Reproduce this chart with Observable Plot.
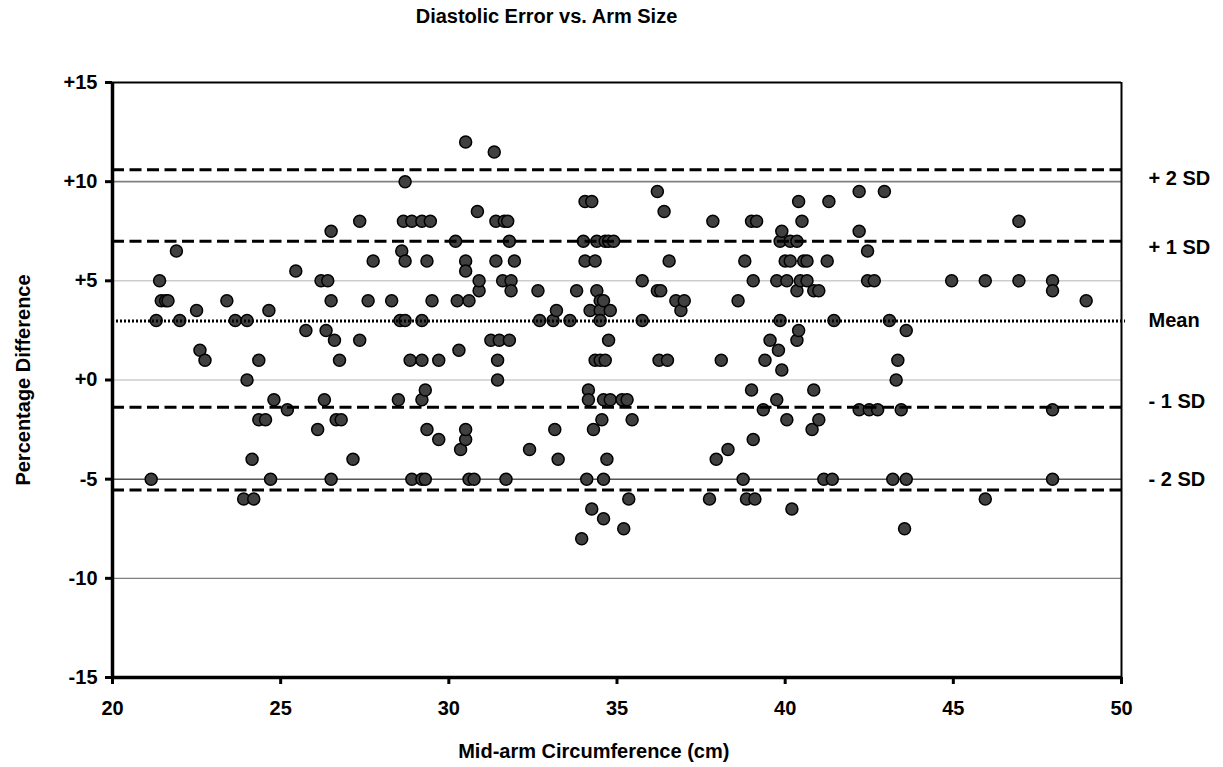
<!DOCTYPE html>
<html>
<head>
<meta charset="utf-8">
<script src="https://cdn.jsdelivr.net/npm/d3@7"></script>
<script src="https://cdn.jsdelivr.net/npm/@observablehq/plot@0.6"></script>
<style>
  html, body { margin: 0; padding: 0; background: #ffffff; }
  #chart svg { display: block; }
</style>
</head>
<body>
<div id="chart"></div>
<script>
// ---- Data ----
const armCm = [
  21.15, 21.3, 21.4, 21.45, 21.58, 21.65, 21.9, 22.0, 22.5, 22.6,
  22.75, 23.4, 23.65, 24.0, 24.0, 23.9, 24.15, 24.2, 24.35, 24.35,
  24.55, 24.65, 24.7, 24.8, 25.2, 25.45, 25.75, 26.1, 26.2, 26.35,
  26.3, 26.4, 26.5, 26.5, 26.5, 26.6, 26.65, 26.8, 26.75, 27.15,
  27.35, 27.35, 27.6, 27.75, 28.3, 28.5, 28.6, 28.55, 28.7, 28.65,
  28.7, 28.7, 28.85, 28.9, 28.9, 29.2, 29.2, 29.2, 29.2, 29.3,
  29.2, 29.35, 29.3, 29.35, 29.45, 29.5, 29.7, 29.7, 30.2, 30.25,
  30.3, 30.35, 30.5, 30.5, 30.5, 30.5, 30.5, 30.6, 30.6, 30.75,
  30.85, 30.9, 30.9, 31.25, 31.35, 31.4, 31.4, 31.5, 31.45, 31.45,
  31.65, 31.6, 31.8, 31.7, 31.75, 31.8, 31.85, 31.85, 31.95, 32.4,
  32.65, 32.7, 33.1, 33.15, 33.2, 33.25, 33.6, 33.8, 34.0, 33.95,
  34.05, 34.05, 34.15, 34.15, 34.1, 34.25, 34.2, 34.25, 34.4, 34.35,
  34.4, 34.35, 34.3, 34.5, 34.5, 34.5, 34.5, 34.6, 34.65, 34.6,
  34.55, 34.6, 34.65, 34.6, 34.8, 34.75, 34.75, 34.7, 34.8, 34.9,
  35.15, 35.3, 35.2, 35.35, 35.45, 35.75, 35.75, 36.2, 36.2, 36.25,
  36.3, 36.4, 36.55, 36.5, 36.75, 36.9, 37.0, 37.75, 37.85, 37.95,
  38.1, 38.3, 38.6, 38.75, 38.8, 38.85, 39.0, 39.15, 39.05, 39.0,
  39.05, 39.1, 39.4, 39.35, 39.55, 39.75, 39.75, 39.85, 39.8, 39.85,
  39.9, 39.9, 40.15, 40.0, 40.15, 40.05, 40.05, 40.35, 40.2, 40.35,
  40.35, 40.4, 40.45, 40.4, 40.5, 40.55, 40.65, 40.65, 40.85, 40.8,
  40.85, 41.0, 41.0, 41.15, 41.25, 41.3, 41.4, 41.45, 42.2, 42.2,
  42.2, 42.45, 42.45, 42.5, 42.65, 42.75, 42.95, 43.1, 43.2, 43.3,
  43.35, 43.45, 43.6, 43.55, 43.6, 44.95, 45.95, 45.95, 46.95, 46.95,
  47.95, 47.95, 47.95, 47.95, 48.95
];
const pctDiff = [
  -5, 3, 5, 4, 4, 4, 6.5, 3, 3.5, 1.5,
  1, 4, 3, 3, 0, -6, -4, -6, 1, -2,
  -2, 3.5, -5, -1, -1.5, 5.5, 2.5, -2.5, 5, 2.5,
  -1, 5, 7.5, 4, -5, 2, -2, -2, 1, -4,
  8, 2, 4, 6, 4, -1, 6.5, 3, 10, 8,
  6, 3, 1, 8, -5, 8, 3, -1, 1, -0.5,
  -5, 6, -5, -2.5, 8, 4, -3, 1, 7, 4,
  1.5, -3.5, -3, 12, 6, 5.5, -2.5, 4, -5, -5,
  8.5, 4.5, 5, 2, 11.5, 8, 6, 2, 1, 0,
  8, 5, 2, -5, 8, 7, 5, 4.5, 6, -3.5,
  4.5, 3, 3, -2.5, 3.5, -4, 3, 4.5, 7, -8,
  9, 6, -0.5, -1, -5, 9, 3.5, -6.5, 7, 6,
  4.5, 1, -2.5, 4, 3.5, 3, 1, 4, 1, -1,
  -2, -5, 7, -7, 3.5, 7, 2, -4, -1, 7,
  -1, -1, -7.5, -6, -2, 5, 3, 9.5, 4.5, 1,
  4.5, 8.5, 6, 1, 4, 3.5, 4, -6, 8, -4,
  1, -3.5, 4, -5, 6, -6, 8, 8, 5, -0.5,
  -3, -6, 1, -1.5, 2, 5, -1, 7, 1.5, 3,
  7.5, 0.5, 7, 6, 6, 5, -2, 7, -6.5, 4.5,
  2, 9, 5, 2.5, 8, 6, 6, 5, -0.5, -2.5,
  4.5, 4.5, -2, -5, 6, 9, -5, 3, 9.5, 7.5,
  -1.5, 6.5, 5, -1.5, 5, -1.5, 9.5, 3, -5, 0,
  1, -1.5, -5, -7.5, 2.5, 5, 5, -6, 8, 5,
  5, 4.5, -1.5, -5, 4
];

const xTicks = [20, 25, 30, 35, 40, 45, 50];
const yTicks = [15, 10, 5, 0, -5, -10, -15];
const gridValues = [10, 5, 0, -5, -10];
const gridColors = ["#808080", "#b4b4b4", "#b4b4b4", "#000000", "#808080"];
const gridWidths = [1.6, 1, 1, 1, 1.4];

const refNames = ["+ 2 SD", "+ 1 SD", "Mean", "- 1 SD", "- 2 SD"];
const refValues = [10.6, 7.0, 2.97, -1.37, -5.54];
const refLabelY = [10.15, 6.7, 3.0, -1.1, -5.0];

const titleText = "Diastolic Error vs. Arm Size";
const xLabelText = "Mid-arm Circumference (cm)";
const yLabelText = "Percentage Difference";

// ---- Tables built from the arrays ----
const points = armCm.map((x, i) => ({ x, y: pctDiff[i] }));
const refs = refNames.map((name, i) => ({ name, value: refValues[i], labelY: refLabelY[i] }));
const sdRefs = refs.filter(d => d.name !== "Mean");
const meanRef = refs.filter(d => d.name === "Mean");

const fmtY = d => (d >= 0 ? "+" : "") + d;
const FONT = "'Liberation Sans', Arial, Helvetica, sans-serif";

const chart = Plot.plot({
  width: 1223,
  height: 767,
  marginTop: 82,
  marginBottom: 90,
  marginLeft: 112,
  marginRight: 102,
  style: { fontFamily: FONT, fontWeight: "bold", fontSize: "20px", background: "#ffffff", color: "#000", overflow: "visible" },
  x: { domain: [20, 50], label: null },
  y: { domain: [-15, 15], label: null },
  marks: [
    // horizontal gridlines
    ...gridValues.map((v, i) =>
      Plot.ruleY([v], { y: d => d, x1: 20, x2: 50, stroke: gridColors[i], strokeWidth: gridWidths[i] })
    ),
    // data points
    Plot.dot(points, { x: "x", y: "y", r: 6, fill: "#404040", stroke: "#000000", strokeWidth: 1.5 }),
    // SD reference lines (dashed)
    Plot.ruleY(sdRefs, { y: "value", x1: 20, x2: 50.12, stroke: "#000", strokeWidth: 3, strokeDasharray: "12,5.5" }),
    // mean line (dotted)
    Plot.ruleY(meanRef, { y: "value", x1: 20, x2: 50.12, stroke: "#000", strokeWidth: 3, strokeDasharray: "2,2" }),
    // frame
    Plot.ruleY([15], { y: d => d, x1: 20, x2: 50, stroke: "#000", strokeWidth: 2 }),
    Plot.ruleX([50], { x: d => d, y1: -15, y2: 15, stroke: "#000", strokeWidth: 2 }),
    Plot.ruleY([-15], { y: d => d, x1: 20, x2: 50, stroke: "#000", strokeWidth: 3.5 }),
    Plot.ruleX([20], { x: d => d, y1: -15, y2: 15, stroke: "#000", strokeWidth: 3.5 }),
    // axes
    Plot.axisY({ ticks: yTicks, tickFormat: fmtY, tickSize: 7, tickPadding: 8, strokeWidth: 3, fontSize: 20, label: null }),
    Plot.axisX({ ticks: xTicks, tickFormat: d => String(d), tickSize: 7, tickPadding: 16, strokeWidth: 3, fontSize: 20, label: null }),
    // reference labels on the right
    Plot.text(refs, { x: () => 50, y: "labelY", text: "name", dx: 27, textAnchor: "start", fontSize: 20, fontWeight: "bold", fill: "#000" }),
    // title and axis labels
    Plot.text([titleText], { text: d => d, frameAnchor: "top", textAnchor: "middle", dx: -70.5, dy: -65.7, lineAnchor: "middle", fontSize: 20, fontWeight: "bold", fill: "#000" }),
    Plot.text([xLabelText], { text: d => d, frameAnchor: "bottom", textAnchor: "middle", dx: -23.2, dy: 73.7, lineAnchor: "middle", fontSize: 20, fontWeight: "bold", fill: "#000" }),
    Plot.text([yLabelText], { text: d => d, frameAnchor: "left", textAnchor: "middle", dx: -89.4, rotate: -90, lineAnchor: "middle", fontSize: 20, fontWeight: "bold", fill: "#000" })
  ]
});

document.getElementById("chart").appendChild(chart);
</script>
</body>
</html>
